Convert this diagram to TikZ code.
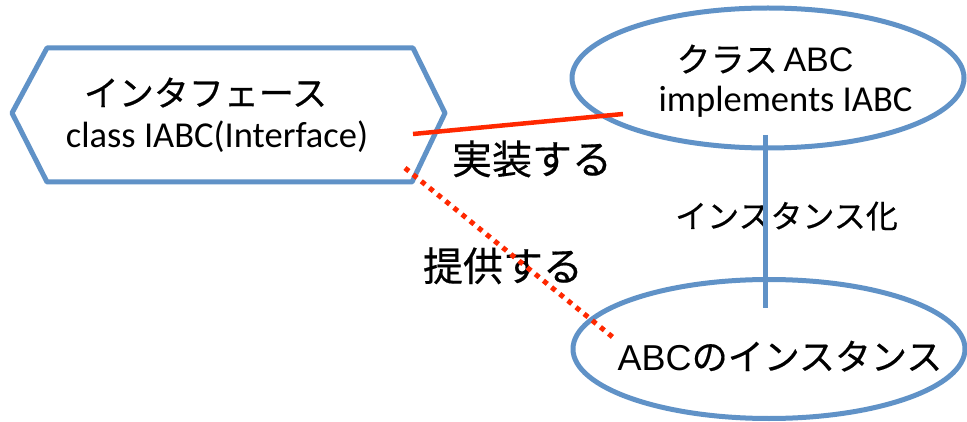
\documentclass[tikz,border=0pt]{standalone}
\usepackage{fontspec}
\usetikzlibrary{shapes.geometric}
\newfontfamily\jp[FakeBold=0.4]{Noto Sans CJK JP}
\newfontfamily\lat{Carlito}
\newfontfamily\arl{Liberation Sans}
\definecolor{shapeblue}{RGB}{96,146,199}
\definecolor{linkred}{RGB}{255,40,0}
\begin{document}
\begin{tikzpicture}[x=1pt,y=-1pt,
  outline/.style={draw=shapeblue,line width=5pt,line join=round},
  lbl/.style={inner sep=0pt,anchor=base,text=black},
  implink/.style={draw=linkred,line width=4.5pt},
  provlink/.style={draw=linkred,line width=5pt,dash pattern=on 5pt off 5.5pt},
  instlink/.style={draw=shapeblue,line width=5pt}]
\useasboundingbox[fill=white] (0,0) rectangle (967,422);
% interface hexagon
\coordinate (hW) at (12,113);
\coordinate (hNW) at (47,48);
\coordinate (hNE) at (413,48);
\coordinate (hE) at (445,113);
\coordinate (hSE) at (412,182);
\coordinate (hSW) at (47,182);
\draw[outline] (hW) -- (hNW) -- (hNE) -- (hE) -- (hSE) -- (hSW) -- cycle;
% ellipses
\node[outline,ellipse,minimum width=392pt,minimum height=140pt,inner sep=0pt] (cls) at (768,78) {};
\node[outline,ellipse,minimum width=392pt,minimum height=139pt,inner sep=0pt] (inst) at (769,349) {};
% texts
\node[lbl] (t1) at (205.5,106) {\jp\fontsize{35}{40}\selectfont インタフェース};
\node[lbl] (t2) at (217,148) {\lat\fontsize{36.5}{40}\selectfont class IABC(Interface)};
\node[lbl] (t3) at (765,72) {\jp\fontsize{34}{40}\selectfont クラス\,{\arl ABC}};
\node[lbl] (t4) at (785.5,112) {\lat\fontsize{36.5}{40}\selectfont implements IABC};
\node[lbl] (t5) at (532,174) {\jp\fontsize{40}{44}\selectfont 実装する};
\node[lbl] (t6) at (503,281) {\jp\fontsize{40}{44}\selectfont 提供する};
\node[lbl] (t7) at (786.5,228) {\jp\fontsize{32}{36}\selectfont インスタンス化};
\node[lbl] (t8) at (780,370) {\jp\fontsize{36}{40}\selectfont {\arl ABC}のインスタンス};
% connectors
\coordinate (r1) at (413,134);
\coordinate (r2) at (623,114);
\draw[implink] (r1) -- (r2);
\coordinate (d1) at (405,168);
\coordinate (d2) at (615,339);
\draw[provlink] (d1) -- (d2);
\coordinate (v1) at (765,135);
\coordinate (v2) at (765,308);
\draw[instlink] (v1) -- (v2);
\end{tikzpicture}
\end{document}
